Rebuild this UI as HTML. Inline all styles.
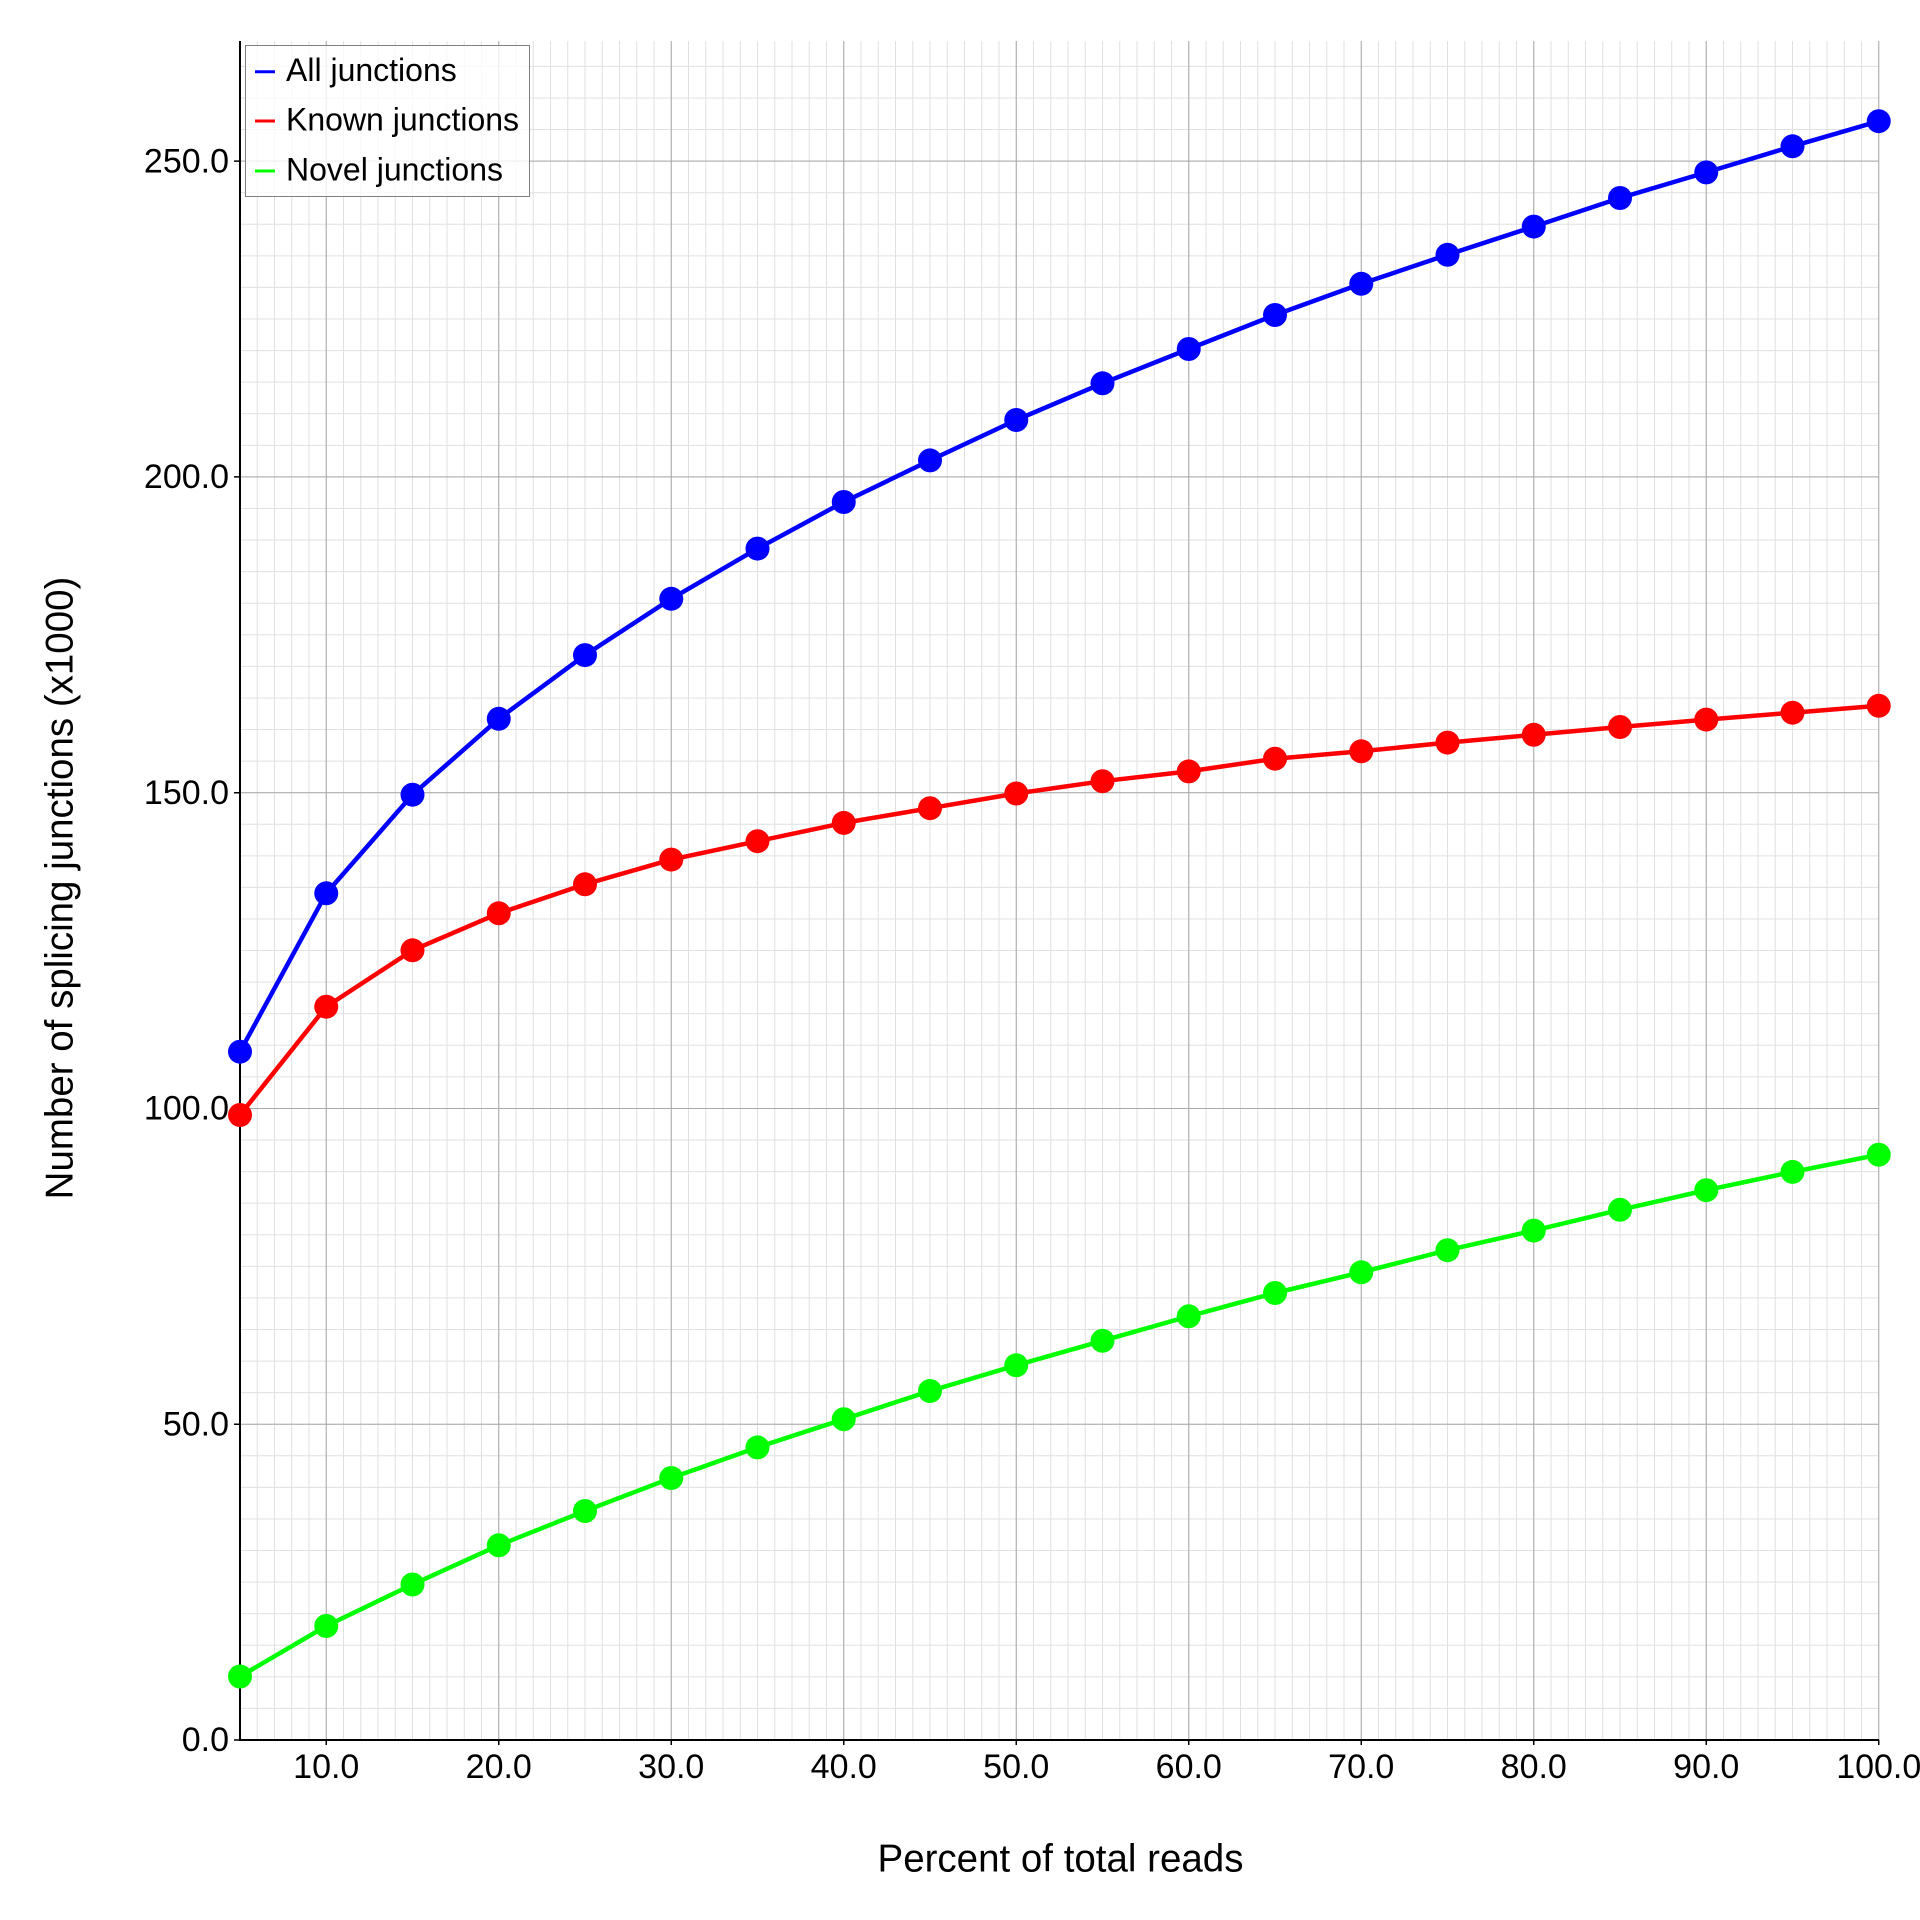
<!DOCTYPE html>
<html><head><meta charset="utf-8"><style>
html,body{margin:0;padding:0;background:#fff;}
svg{display:block;}
text{font-family:"Liberation Sans",Arial,sans-serif;fill:#000;}
</style></head><body>
<svg width="1920" height="1920" viewBox="0 0 1920 1920" xmlns="http://www.w3.org/2000/svg">
<defs>
<clipPath id="plot"><rect x="240" y="41" width="1639.5" height="1699"/></clipPath>
</defs>
<rect x="0" y="0" width="1920" height="1920" fill="#fff"/>
<g clip-path="url(#plot)">
<!-- minor vertical grid -->
<path fill="none" stroke="#e0e0e0" stroke-width="1" d="M240 41 v1699 m17.25 -1699 v1699 m17.25 -1699 v1699 m17.25 -1699 v1699 m17.25 -1699 v1699 m17.25 -1699 v1699 m17.25 -1699 v1699 m17.25 -1699 v1699 m17.25 -1699 v1699 m17.25 -1699 v1699 m17.25 -1699 v1699 m17.25 -1699 v1699 m17.25 -1699 v1699 m17.25 -1699 v1699 m17.25 -1699 v1699 m17.25 -1699 v1699 m17.25 -1699 v1699 m17.25 -1699 v1699 m17.25 -1699 v1699 m17.25 -1699 v1699 m17.25 -1699 v1699 m17.25 -1699 v1699 m17.25 -1699 v1699 m17.25 -1699 v1699 m17.25 -1699 v1699 m17.25 -1699 v1699 m17.25 -1699 v1699 m17.25 -1699 v1699 m17.25 -1699 v1699 m17.25 -1699 v1699 m17.25 -1699 v1699 m17.25 -1699 v1699 m17.25 -1699 v1699 m17.25 -1699 v1699 m17.25 -1699 v1699 m17.25 -1699 v1699 m17.25 -1699 v1699 m17.25 -1699 v1699 m17.25 -1699 v1699 m17.25 -1699 v1699 m17.25 -1699 v1699 m17.25 -1699 v1699 m17.25 -1699 v1699 m17.25 -1699 v1699 m17.25 -1699 v1699 m17.25 -1699 v1699 m17.25 -1699 v1699 m17.25 -1699 v1699 m17.25 -1699 v1699 m17.25 -1699 v1699 m17.25 -1699 v1699 m17.25 -1699 v1699 m17.25 -1699 v1699 m17.25 -1699 v1699 m17.25 -1699 v1699 m17.25 -1699 v1699 m17.25 -1699 v1699 m17.25 -1699 v1699 m17.25 -1699 v1699 m17.25 -1699 v1699 m17.25 -1699 v1699 m17.25 -1699 v1699 m17.25 -1699 v1699 m17.25 -1699 v1699 m17.25 -1699 v1699 m17.25 -1699 v1699 m17.25 -1699 v1699 m17.25 -1699 v1699 m17.25 -1699 v1699 m17.25 -1699 v1699 m17.25 -1699 v1699 m17.25 -1699 v1699 m17.25 -1699 v1699 m17.25 -1699 v1699 m17.25 -1699 v1699 m17.25 -1699 v1699 m17.25 -1699 v1699 m17.25 -1699 v1699 m17.25 -1699 v1699 m17.25 -1699 v1699 m17.25 -1699 v1699 m17.25 -1699 v1699 m17.25 -1699 v1699 m17.25 -1699 v1699 m17.25 -1699 v1699 m17.25 -1699 v1699 m17.25 -1699 v1699 m17.25 -1699 v1699 m17.25 -1699 v1699 m17.25 -1699 v1699 m17.25 -1699 v1699 m17.25 -1699 v1699 m17.25 -1699 v1699 m17.25 -1699 v1699 m17.25 -1699 v1699 m17.25 -1699 v1699 m17.25 -1699 v1699 m17.25 -1699 v1699 m17.25 -1699 v1699 m17.25 -1699 v1699 m17.25 -1699 v1699"/>
<!-- minor horizontal grid -->
<path fill="none" stroke="#e0e0e0" stroke-width="1" d="M240 1740 h1639 m-1639 -31.5775 h1639 m-1639 -31.5775 h1639 m-1639 -31.5775 h1639 m-1639 -31.5775 h1639 m-1639 -31.5775 h1639 m-1639 -31.5775 h1639 m-1639 -31.5775 h1639 m-1639 -31.5775 h1639 m-1639 -31.5775 h1639 m-1639 -31.5775 h1639 m-1639 -31.5775 h1639 m-1639 -31.5775 h1639 m-1639 -31.5775 h1639 m-1639 -31.5775 h1639 m-1639 -31.5775 h1639 m-1639 -31.5775 h1639 m-1639 -31.5775 h1639 m-1639 -31.5775 h1639 m-1639 -31.5775 h1639 m-1639 -31.5775 h1639 m-1639 -31.5775 h1639 m-1639 -31.5775 h1639 m-1639 -31.5775 h1639 m-1639 -31.5775 h1639 m-1639 -31.5775 h1639 m-1639 -31.5775 h1639 m-1639 -31.5775 h1639 m-1639 -31.5775 h1639 m-1639 -31.5775 h1639 m-1639 -31.5775 h1639 m-1639 -31.5775 h1639 m-1639 -31.5775 h1639 m-1639 -31.5775 h1639 m-1639 -31.5775 h1639 m-1639 -31.5775 h1639 m-1639 -31.5775 h1639 m-1639 -31.5775 h1639 m-1639 -31.5775 h1639 m-1639 -31.5775 h1639 m-1639 -31.5775 h1639 m-1639 -31.5775 h1639 m-1639 -31.5775 h1639 m-1639 -31.5775 h1639 m-1639 -31.5775 h1639 m-1639 -31.5775 h1639 m-1639 -31.5775 h1639 m-1639 -31.5775 h1639 m-1639 -31.5775 h1639 m-1639 -31.5775 h1639 m-1639 -31.5775 h1639 m-1639 -31.5775 h1639 m-1639 -31.5775 h1639 m-1639 -31.5775 h1639"/>
<!-- major grid -->
<path fill="none" stroke="#a8a8a8" stroke-width="1" d="M326.25 41 V1740 M498.75 41 V1740 M671.25 41 V1740 M843.75 41 V1740 M1016.25 41 V1740 M1188.75 41 V1740 M1361.25 41 V1740 M1533.75 41 V1740 M1706.25 41 V1740 M1878.75 41 V1740 M240 1424.2 H1879 M240 1108.45 H1879 M240 792.7 H1879 M240 476.9 H1879 M240 161.1 H1879"/>
</g>
<!-- axes -->
<path fill="none" stroke="#000" stroke-width="2" d="M240 41 V1741 M239 1740 H1879"/>
<!-- ticks -->
<path fill="none" stroke="#000" stroke-width="1.5" d="M234 1740 H240 M234 1424.2 H240 M234 1108.45 H240 M234 792.7 H240 M234 476.9 H240 M234 161.1 H240 M326.25 1740 V1745 M498.75 1740 V1745 M671.25 1740 V1745 M843.75 1740 V1745 M1016.25 1740 V1745 M1188.75 1740 V1745 M1361.25 1740 V1745 M1533.75 1740 V1745 M1706.25 1740 V1745 M1878.75 1740 V1745"/>
<!-- y tick labels -->
<g font-size="34" text-anchor="end">
<text x="229" y="1751">0.0</text>
<text x="229" y="1435.5">50.0</text>
<text x="229" y="1119.5">100.0</text>
<text x="229" y="804">150.0</text>
<text x="229" y="488">200.0</text>
<text x="229" y="172.5">250.0</text>
</g>
<!-- x tick labels -->
<g font-size="34" text-anchor="middle">
<text x="326.25" y="1778">10.0</text>
<text x="498.75" y="1778">20.0</text>
<text x="671.25" y="1778">30.0</text>
<text x="843.75" y="1778">40.0</text>
<text x="1016.25" y="1778">50.0</text>
<text x="1188.75" y="1778">60.0</text>
<text x="1361.25" y="1778">70.0</text>
<text x="1533.75" y="1778">80.0</text>
<text x="1706.25" y="1778">90.0</text>
<text x="1878.75" y="1778">100.0</text>
</g>
<!-- axis titles -->
<text x="1060.5" y="1871.5" font-size="38.5" text-anchor="middle">Percent of total reads</text>
<text transform="translate(72.5,888) rotate(-90)" font-size="38.5" text-anchor="middle">Number of splicing junctions (x1000)</text>

<!-- series: green -->
<g fill="#00ff00">
<polyline fill="none" stroke="#00ff00" stroke-width="4.5" stroke-linejoin="round" points="240,1676.5 326.25,1626 412.5,1584.5 498.75,1545.3 585,1511 671.25,1478 757.5,1447.4 843.75,1419.2 930,1391 1016.25,1365.3 1102.5,1340.8 1188.75,1316.3 1275,1293 1361.25,1272.3 1447.5,1250.2 1533.75,1230.6 1620,1209.8 1706.25,1190.2 1792.5,1171.9 1878.75,1154.7"/>
<circle cx="240" cy="1676.5" r="12"/><circle cx="326.25" cy="1626" r="12"/><circle cx="412.5" cy="1584.5" r="12"/><circle cx="498.75" cy="1545.3" r="12"/><circle cx="585" cy="1511" r="12"/><circle cx="671.25" cy="1478" r="12"/><circle cx="757.5" cy="1447.4" r="12"/><circle cx="843.75" cy="1419.2" r="12"/><circle cx="930" cy="1391" r="12"/><circle cx="1016.25" cy="1365.3" r="12"/><circle cx="1102.5" cy="1340.8" r="12"/><circle cx="1188.75" cy="1316.3" r="12"/><circle cx="1275" cy="1293" r="12"/><circle cx="1361.25" cy="1272.3" r="12"/><circle cx="1447.5" cy="1250.2" r="12"/><circle cx="1533.75" cy="1230.6" r="12"/><circle cx="1620" cy="1209.8" r="12"/><circle cx="1706.25" cy="1190.2" r="12"/><circle cx="1792.5" cy="1171.9" r="12"/><circle cx="1878.75" cy="1154.7" r="12"/>
</g>
<!-- series: red -->
<g fill="#ff0000">
<polyline fill="none" stroke="#ff0000" stroke-width="4.5" stroke-linejoin="round" points="240,1115 326.25,1006.7 412.5,950.3 498.75,913.3 585,884.3 671.25,859.6 757.5,841.2 843.75,822.9 930,808.2 1016.25,793.5 1102.5,781.2 1188.75,771.4 1275,758.7 1361.25,751.3 1447.5,742.6 1533.75,734.8 1620,727 1706.25,719.6 1792.5,712.7 1878.75,705.8"/>
<circle cx="240" cy="1115" r="12"/><circle cx="326.25" cy="1006.7" r="12"/><circle cx="412.5" cy="950.3" r="12"/><circle cx="498.75" cy="913.3" r="12"/><circle cx="585" cy="884.3" r="12"/><circle cx="671.25" cy="859.6" r="12"/><circle cx="757.5" cy="841.2" r="12"/><circle cx="843.75" cy="822.9" r="12"/><circle cx="930" cy="808.2" r="12"/><circle cx="1016.25" cy="793.5" r="12"/><circle cx="1102.5" cy="781.2" r="12"/><circle cx="1188.75" cy="771.4" r="12"/><circle cx="1275" cy="758.7" r="12"/><circle cx="1361.25" cy="751.3" r="12"/><circle cx="1447.5" cy="742.6" r="12"/><circle cx="1533.75" cy="734.8" r="12"/><circle cx="1620" cy="727" r="12"/><circle cx="1706.25" cy="719.6" r="12"/><circle cx="1792.5" cy="712.7" r="12"/><circle cx="1878.75" cy="705.8" r="12"/>
</g>
<!-- series: blue -->
<g fill="#0000ff">
<polyline fill="none" stroke="#0000ff" stroke-width="4.5" stroke-linejoin="round" points="240,1051.7 326.25,893.3 412.5,794.7 498.75,718.8 585,655.1 671.25,598.8 757.5,548.6 843.75,502 930,460.4 1016.25,420 1102.5,383.3 1188.75,349 1275,315 1361.25,283.8 1447.5,254.8 1533.75,226.6 1620,198 1706.25,172.4 1792.5,146.3 1878.75,121.2"/>
<circle cx="240" cy="1051.7" r="12"/><circle cx="326.25" cy="893.3" r="12"/><circle cx="412.5" cy="794.7" r="12"/><circle cx="498.75" cy="718.8" r="12"/><circle cx="585" cy="655.1" r="12"/><circle cx="671.25" cy="598.8" r="12"/><circle cx="757.5" cy="548.6" r="12"/><circle cx="843.75" cy="502" r="12"/><circle cx="930" cy="460.4" r="12"/><circle cx="1016.25" cy="420" r="12"/><circle cx="1102.5" cy="383.3" r="12"/><circle cx="1188.75" cy="349" r="12"/><circle cx="1275" cy="315" r="12"/><circle cx="1361.25" cy="283.8" r="12"/><circle cx="1447.5" cy="254.8" r="12"/><circle cx="1533.75" cy="226.6" r="12"/><circle cx="1620" cy="198" r="12"/><circle cx="1706.25" cy="172.4" r="12"/><circle cx="1792.5" cy="146.3" r="12"/><circle cx="1878.75" cy="121.2" r="12"/>
</g>

<!-- legend -->
<rect x="245.5" y="45.5" width="284" height="151" fill="#fff" fill-opacity="0.8" stroke="#808080" stroke-width="1"/>
<path stroke-width="3" fill="none" d="M255 71.7 H275" stroke="#0000ff"/>
<path stroke-width="3" fill="none" d="M255 121 H275" stroke="#ff0000"/>
<path stroke-width="3" fill="none" d="M255 171 H275" stroke="#00ff00"/>
<g font-size="32">
<text x="286" y="81">All junctions</text>
<text x="286" y="130.7">Known junctions</text>
<text x="286" y="180.3">Novel junctions</text>
</g>
</svg>
</body></html>
